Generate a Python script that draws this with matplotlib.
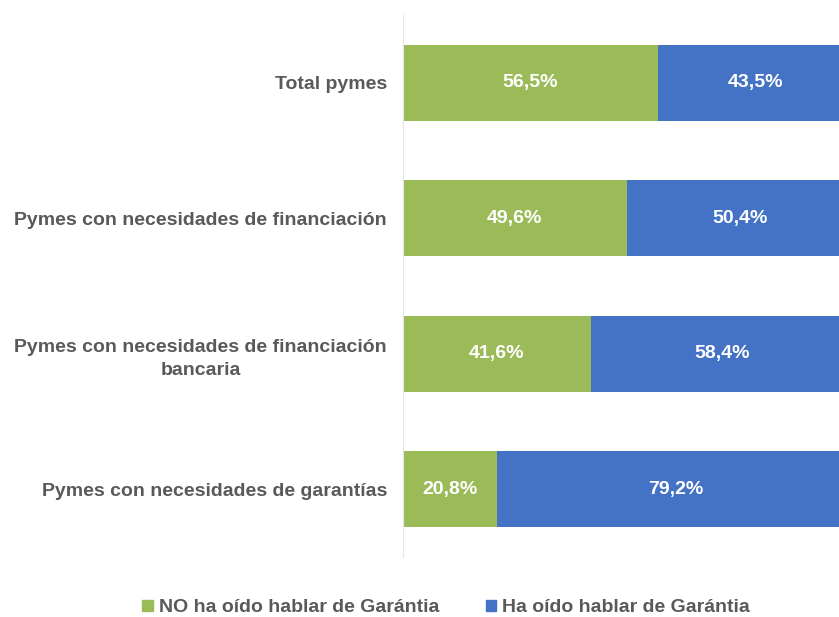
import matplotlib
matplotlib.use("Agg")
from matplotlib import pyplot as plt
from matplotlib.patches import Patch

categories = [
    "Total pymes",
    "Pymes con necesidades de financiación",
    "Pymes con necesidades de financiación\nbancaria",
    "Pymes con necesidades de garantías",
]
no_ha_oido = [56.5, 49.6, 41.6, 20.8]
ha_oido = [43.5, 50.4, 58.4, 79.2]
series_names = ["NO ha oído hablar de Garántia", "Ha oído hablar de Garántia"]

GREEN = "#9BBB59"
BLUE = "#4472C4"
TEXT = "#595959"

plt.rcParams["font.family"] = ["Liberation Sans", "DejaVu Sans"]

fig = plt.figure(figsize=(8.39, 6.17), dpi=100)
# axes runs a bit past the right edge, as in the cropped original
ax = fig.add_axes([403 / 839, 1 - 557 / 617, 451 / 839, 542 / 617])

y = list(range(len(categories)))
h = 0.56
ax.barh(y, no_ha_oido, height=h, color=GREEN)
ax.barh(y, ha_oido, left=no_ha_oido, height=h, color=BLUE)

for i in y:
    ax.text(no_ha_oido[i] / 2, i, f"{no_ha_oido[i]:.1f}%".replace(".", ","),
            ha="center", va="center", color="white", fontsize=14, fontweight="bold")
    ax.text(no_ha_oido[i] + ha_oido[i] / 2, i, f"{ha_oido[i]:.1f}%".replace(".", ","),
            ha="center", va="center", color="white", fontsize=14, fontweight="bold")

ax.set_xlim(0, 100)
ax.set_ylim(len(categories) - 0.5, -0.5)
ax.set_yticks(y)
ax.set_yticklabels(categories, fontsize=14, fontweight="bold", color=TEXT,
                   multialignment="center", linespacing=1.45)
ax.tick_params(axis="y", length=0, pad=11.5)
ax.set_xticks([])
for side in ["top", "right", "bottom"]:
    ax.spines[side].set_visible(False)
ax.spines["left"].set_color("#E6E6E6")

handles = [Patch(color=GREEN), Patch(color=BLUE)]
fig.legend(handles, series_names, loc="center", bbox_to_anchor=(446 / 839, 1 - 608 / 617),
           ncol=2, frameon=False, handlelength=0.55, handleheight=0.55, handletextpad=0.3,
           columnspacing=2.4, prop={"size": 14, "weight": "bold"}, labelcolor=TEXT)

fig.savefig("out.png", dpi=100)
